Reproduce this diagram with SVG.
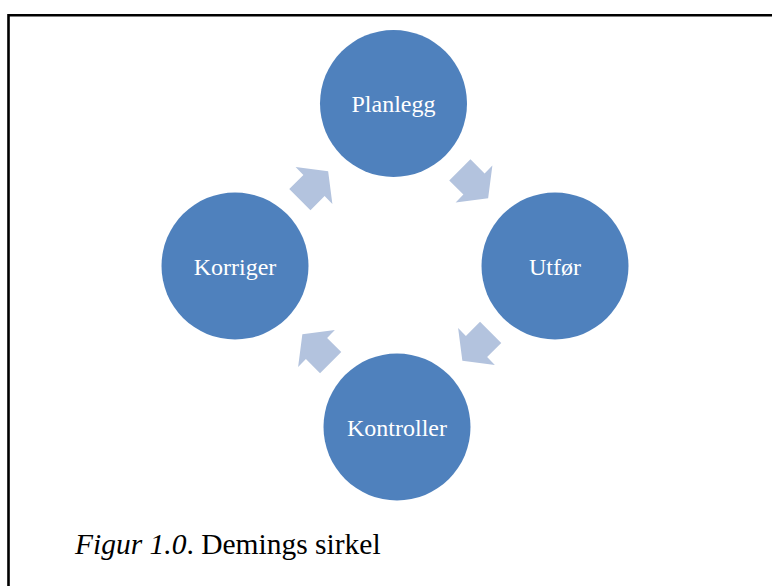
<svg xmlns="http://www.w3.org/2000/svg" width="772" height="586" viewBox="0 0 772 586">
<defs>
<style>
.node{fill:#4F81BD;}
.lbl{fill:#FFFFFF;font-family:"Liberation Serif","Times New Roman",serif;font-size:24px;text-anchor:middle;}
.arr{fill:#B3C3DE;}
.cap{fill:#000000;font-family:"Liberation Serif","Times New Roman",serif;font-size:29.5px;}
</style>
<polygon id="ah" points="-20,-15 0,-15 0,-26 20,0 0,26 0,15 -20,15"/>
</defs>
<rect x="0" y="0" width="772" height="586" fill="#FFFFFF"/>
<polyline points="8.5,586 8.5,15.3 772,15.3" fill="none" stroke="#000000" stroke-width="2.6"/>
<g id="connectors">
<use href="#ah" class="arr" transform="translate(314,185.5) rotate(-45)"/>
<use href="#ah" class="arr" transform="translate(474,184) rotate(45)"/>
<use href="#ah" class="arr" transform="translate(476.5,346.5) rotate(135)"/>
<use href="#ah" class="arr" transform="translate(316.5,348.5) rotate(-135)"/>
</g>
<g id="planlegg">
<circle class="node" cx="393.5" cy="103.5" r="73.5"/>
<text class="lbl" x="393.5" y="112">Planlegg</text>
</g>
<g id="utfor">
<circle class="node" cx="555" cy="266" r="73.5"/>
<text class="lbl" x="555" y="274.5">Utfør</text>
</g>
<g id="kontroller">
<circle class="node" cx="397" cy="427" r="73.5"/>
<text class="lbl" x="397" y="435.5">Kontroller</text>
</g>
<g id="korriger">
<circle class="node" cx="235" cy="266" r="73.5"/>
<text class="lbl" x="235" y="274.5">Korriger</text>
</g>
<text class="cap" x="75" y="554"><tspan font-style="italic">Figur 1.0</tspan>. Demings sirkel</text>
</svg>
